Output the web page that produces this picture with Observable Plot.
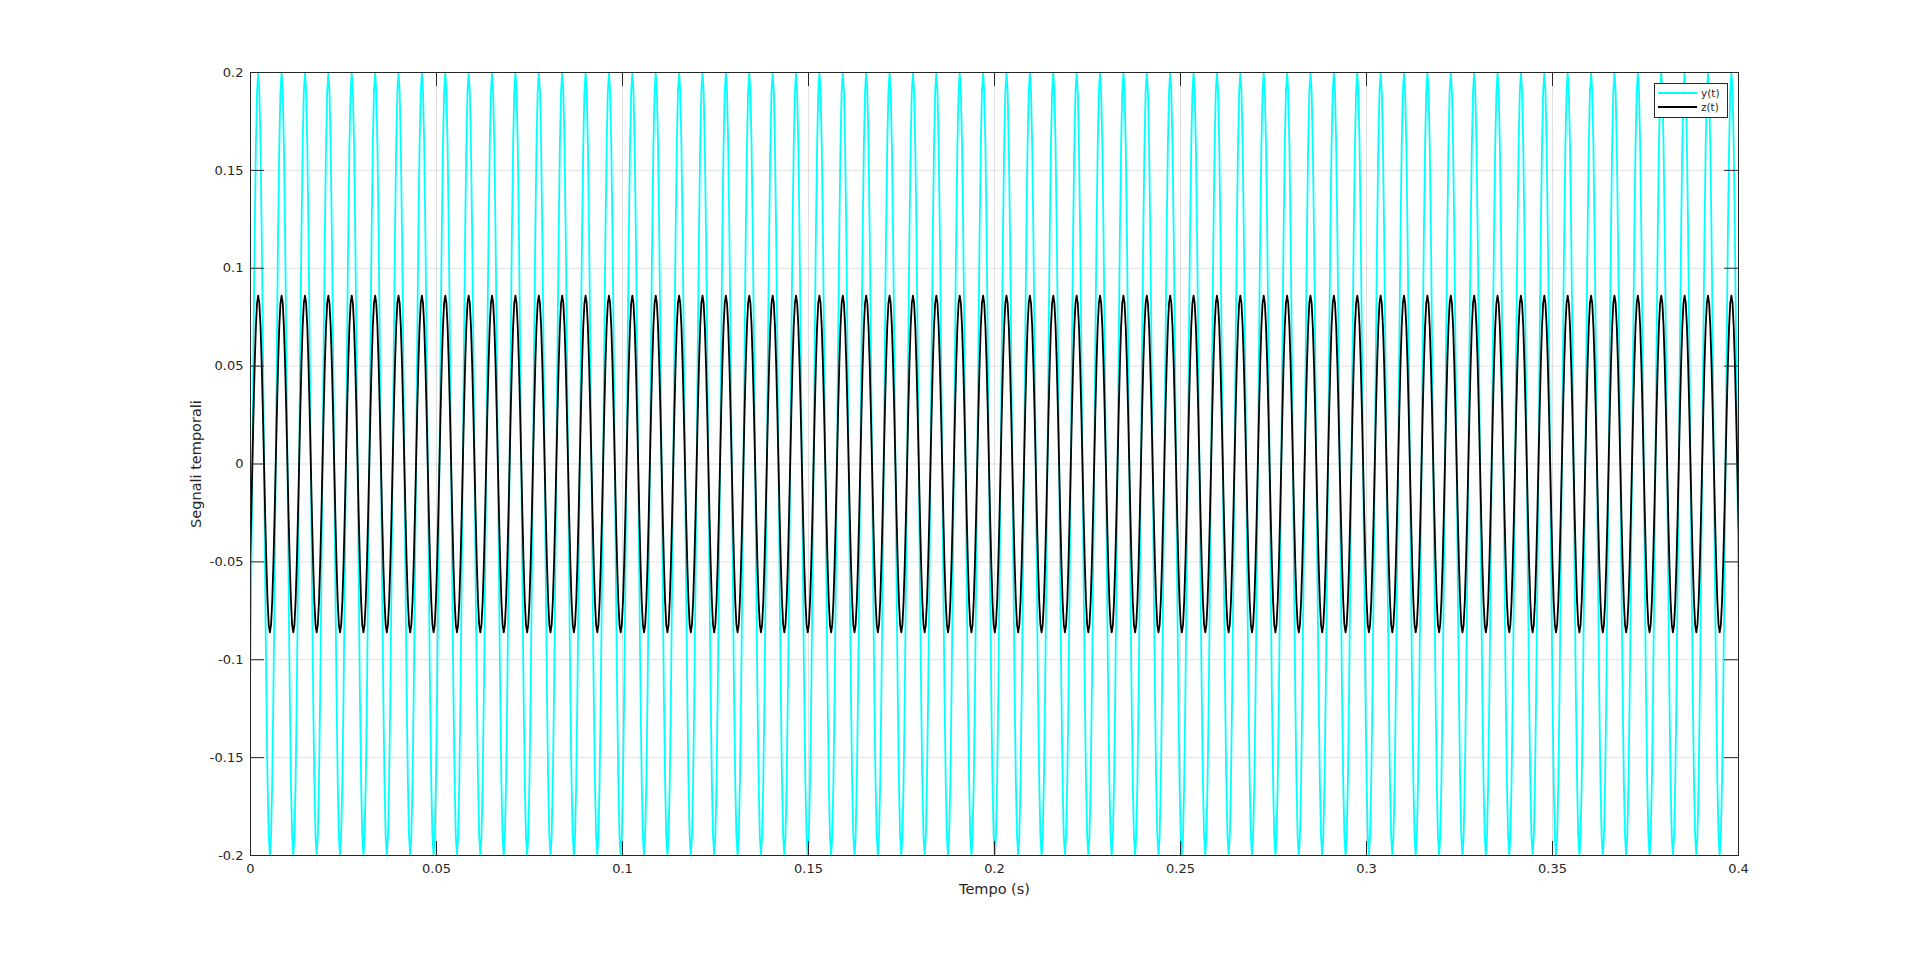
<!DOCTYPE html>
<html>
<head>
<meta charset="utf-8">
<script src="https://cdn.jsdelivr.net/npm/d3@7"></script>
<script src="https://cdn.jsdelivr.net/npm/@observablehq/plot@0.6"></script>
<style>
  body { margin: 0; background: #fff; }
  #wrap { position: relative; width: 1920px; height: 961px; font-family: "DejaVu Sans", sans-serif; }
  #legend { position: absolute; left: 1654px; top: 83px; width: 72px; height: 33px; border: 1px solid #262626; background: #fff; font-size: 10.5px; color: #262626; }
  .row { position: absolute; left: 0; height: 14px; display: flex; align-items: center; }
  .sw { width: 39px; height: 2px; margin-left: 3px; margin-right: 4px; }
</style>
</head>
<body>
<div id="wrap">
  <div id="chart"></div>
  <div id="legend">
    <div class="row" style="top:2px"><div class="sw" style="background:#00ffff"></div><span>y(t)</span></div>
    <div class="row" style="top:16px"><div class="sw" style="background:#000"></div><span>z(t)</span></div>
  </div>
</div>
<script>
// ---- data ----
const xTicks = [0, 0.05, 0.1, 0.15, 0.2, 0.25, 0.3, 0.35, 0.4];
const yTicks = [-0.2, -0.15, -0.1, -0.05, 0, 0.05, 0.1, 0.15, 0.2];
const xLabel = "Tempo (s)";
const yLabel = "Segnali temporali";
// one period of each signal (20 samples, starting at an upward zero crossing)
const periodY = [0, 0.062, 0.118, 0.162, 0.190, 0.2, 0.190, 0.162, 0.118, 0.062,
                 0, -0.062, -0.118, -0.162, -0.190, -0.2, -0.190, -0.162, -0.118, -0.062];
const periodZ = [0, 0.027, 0.051, 0.070, 0.082, 0.086, 0.082, 0.070, 0.051, 0.027,
                 0, -0.027, -0.051, -0.070, -0.082, -0.086, -0.082, -0.070, -0.051, -0.027];
const period = 0.006286;      // s, measured peak-to-peak spacing
const firstCrossing = 0.0005; // s, first upward zero crossing
const tEnd = 0.4;

// tile the measured period over the time axis
const seriesY = [], seriesZ = [];
const n = periodY.length;
for (let k = -1; firstCrossing + k * period <= tEnd + period; k++) {
  for (let i = 0; i < n; i++) {
    const t = firstCrossing + k * period + i * period / n;
    seriesY.push({t, v: periodY[i]});
    seriesZ.push({t, v: periodZ[i]});
  }
}

const fmt = d => String(+d.toFixed(2));
const ink = "#262626";

const chart = Plot.plot({
  width: 1920,
  height: 961,
  marginLeft: 250,
  marginRight: 182,
  marginTop: 72,
  marginBottom: 106,
  style: {fontFamily: "DejaVu Sans, sans-serif", fontSize: "13px", color: ink, background: "#fff"},
  x: {domain: [0, 0.4]},
  y: {domain: [-0.2, 0.2]},
  marks: [
    Plot.gridX(xTicks, {stroke: "#000", strokeOpacity: 0.12}),
    Plot.gridY(yTicks, {stroke: "#000", strokeOpacity: 0.12}),
    Plot.line(seriesY, {x: "t", y: "v", stroke: "#00ffff", strokeWidth: 1.8, clip: true}),
    Plot.line(seriesZ, {x: "t", y: "v", stroke: "#000", strokeWidth: 1.8, clip: true}),
    Plot.ruleX(xTicks, {stroke: ink, insetTop: 769}),
    Plot.ruleX(xTicks, {stroke: ink, insetBottom: 769}),
    Plot.ruleY(yTicks, {stroke: ink, insetRight: 1474}),
    Plot.ruleY(yTicks, {stroke: ink, insetLeft: 1474}),
    Plot.frame({stroke: ink}),
    Plot.axisX(xTicks, {tickSize: 0, tickPadding: 8, tickFormat: fmt, fontSize: 13, label: null}),
    Plot.axisY(yTicks, {tickSize: 0, tickPadding: 7, tickFormat: fmt, fontSize: 13, label: null}),
    Plot.text([xLabel], {frameAnchor: "bottom", textAnchor: "middle", lineAnchor: "top", dy: 28, fontSize: 14.5, fill: ink}),
    Plot.text([yLabel], {frameAnchor: "left", textAnchor: "middle", lineAnchor: "middle", dx: -54, rotate: -90, fontSize: 14.5, fill: ink})
  ]
});
document.getElementById("chart").appendChild(chart);
</script>
</body>
</html>
